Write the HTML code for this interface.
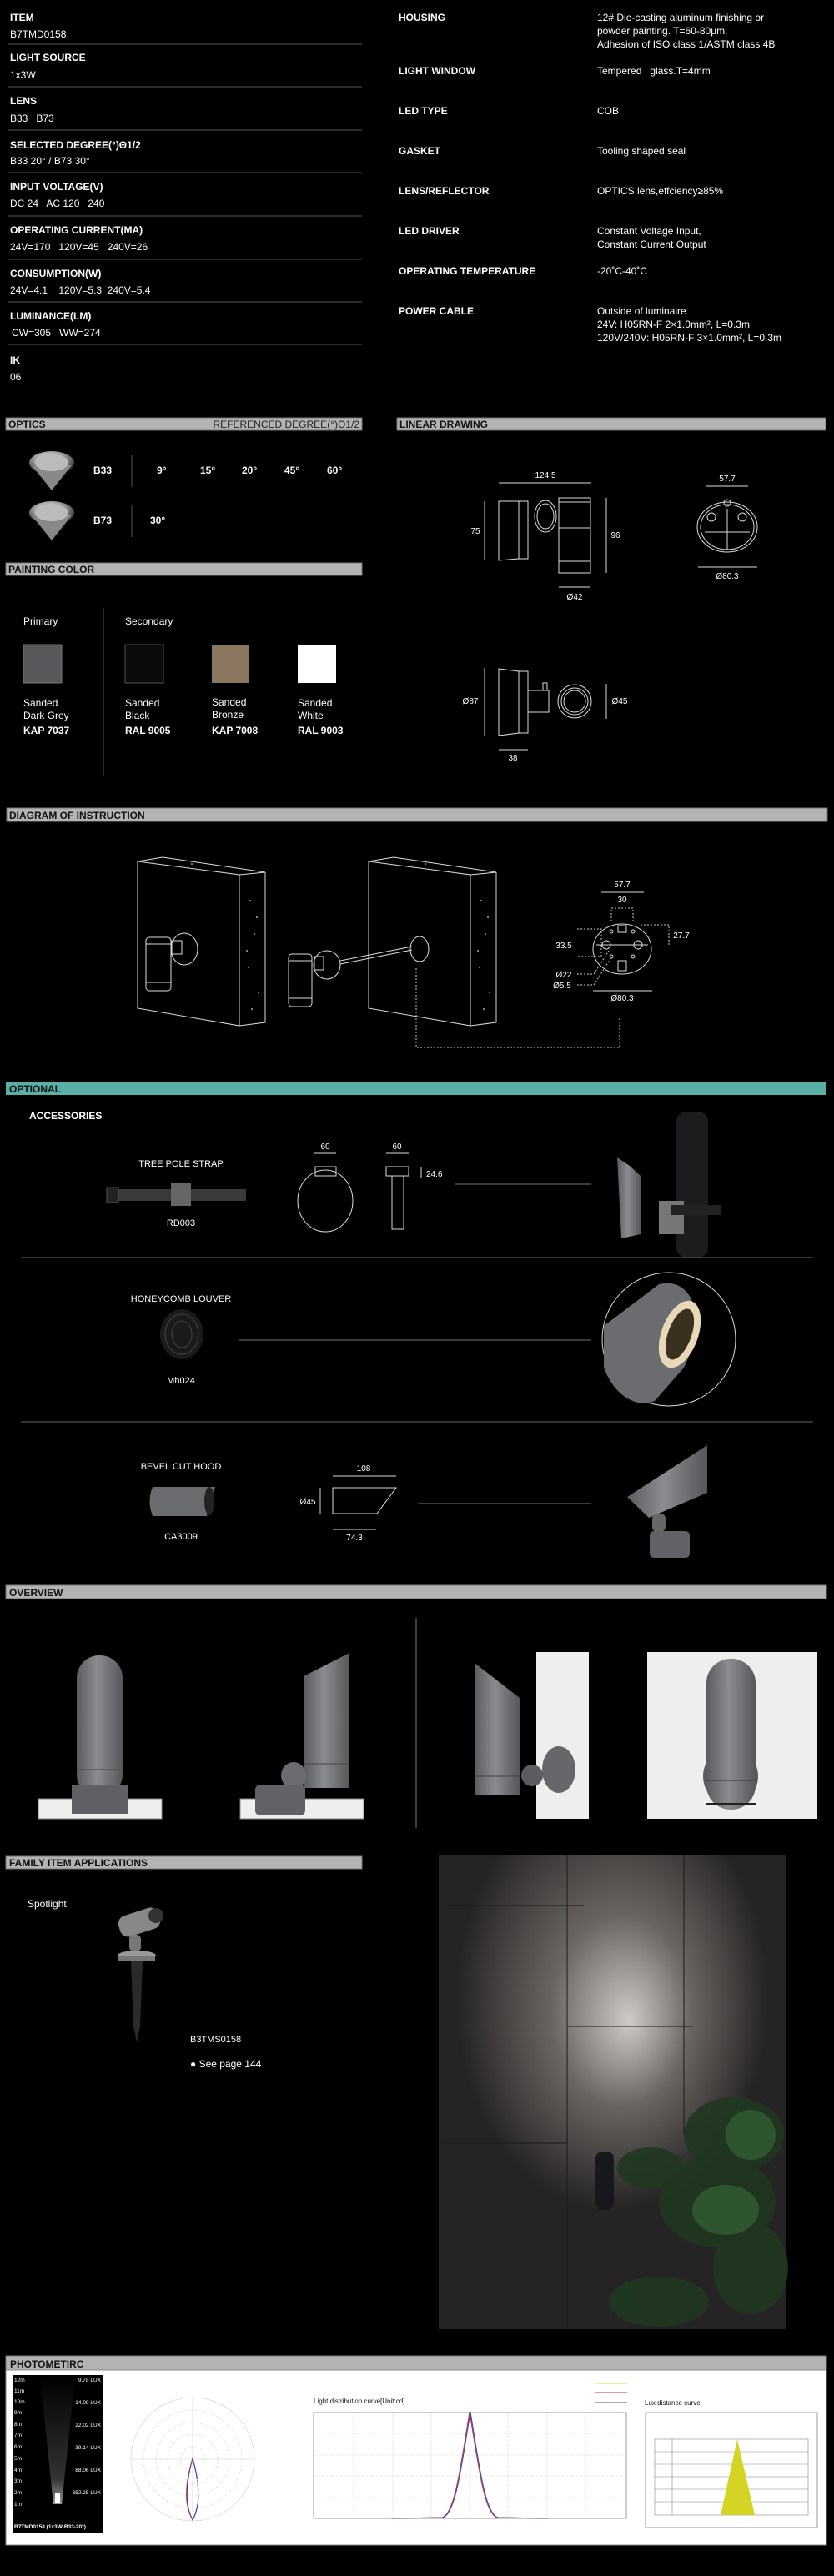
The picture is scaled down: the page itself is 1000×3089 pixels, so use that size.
<!DOCTYPE html>
<html><head><meta charset="utf-8"><style>
html,body{margin:0;padding:0;background:#000;}
svg{display:block;}
text{font-family:"Liberation Sans",sans-serif;fill:#fff;white-space:pre;}
.b{font-weight:bold;}
.h{font-weight:bold;fill:#111;font-size:12px;}
.l{stroke:#555;stroke-width:1;}
.w{stroke:#ddd;fill:none;stroke-width:1;}
.d{font-size:10px;fill:#ddd;}
</style></head><body>
<svg width="1000" height="3089" viewBox="0 0 1000 3089" xmlns="http://www.w3.org/2000/svg" xml:space="preserve">
<defs>
<linearGradient id="tube" x1="0" x2="1"><stop offset="0" stop-color="#5a5c60"/><stop offset=".45" stop-color="#8a8c90"/><stop offset="1" stop-color="#55575a"/></linearGradient>
<radialGradient id="lens" cx=".45" cy=".35" r=".6"><stop offset="0" stop-color="#fff"/><stop offset=".6" stop-color="#999"/><stop offset="1" stop-color="#333"/></radialGradient>
<radialGradient id="wall" cx=".5" cy=".3" r=".45" fx=".55" fy=".35"><stop offset="0" stop-color="#cfcac6"/><stop offset=".45" stop-color="#6a6562"/><stop offset="1" stop-color="#252323"/></radialGradient>
<linearGradient id="lux" x1="0" y1="1" x2="0" y2="0"><stop offset="0" stop-color="#fff"/><stop offset=".2" stop-color="#555"/><stop offset="1" stop-color="#000"/></linearGradient>
</defs>
<rect width="1000" height="3089" fill="#000"/>

<!-- SPEC LEFT -->
<g font-size="12">
<text x="12" y="25" class="b">ITEM</text><text x="12" y="45">B7TMD0158</text>
<text x="12" y="73" class="b">LIGHT SOURCE</text><text x="12" y="94">1x3W</text>
<text x="12" y="125" class="b">LENS</text><text x="12" y="146">B33   B73</text>
<text x="12" y="178" class="b">SELECTED DEGREE(°)Θ1/2</text><text x="12" y="197">B33 20° / B73 30°</text>
<text x="12" y="228" class="b">INPUT VOLTAGE(V)</text><text x="12" y="248">DC 24   AC 120   240</text>
<text x="12" y="280" class="b">OPERATING CURRENT(MA)</text><text x="12" y="300">24V=170   120V=45   240V=26</text>
<text x="12" y="332" class="b">CONSUMPTION(W)</text><text x="12" y="352">24V=4.1    120V=5.3  240V=5.4</text>
<text x="12" y="383" class="b">LUMINANCE(LM)</text><text x="14" y="403">CW=305   WW=274</text>
<text x="12" y="436" class="b">IK</text><text x="12" y="456">06</text>
</g>
<g class="l"><line x1="10" y1="53" x2="434" y2="53"/><line x1="10" y1="104" x2="434" y2="104"/><line x1="10" y1="156" x2="434" y2="156"/><line x1="10" y1="207" x2="434" y2="207"/><line x1="10" y1="259" x2="434" y2="259"/><line x1="10" y1="311" x2="434" y2="311"/><line x1="10" y1="362" x2="434" y2="362"/><line x1="10" y1="413" x2="434" y2="413"/></g>
<!-- SPEC RIGHT -->
<g font-size="12">
<text x="478" y="25" class="b">HOUSING</text><text x="716" y="25">12# Die-casting aluminum finishing or</text><text x="716" y="41">powder painting. T=60-80μm.</text><text x="716" y="57">Adhesion of ISO class 1/ASTM class 4B</text>
<text x="478" y="89" class="b">LIGHT WINDOW</text><text x="716" y="89">Tempered   glass.T=4mm</text>
<text x="478" y="137" class="b">LED TYPE</text><text x="716" y="137">COB</text>
<text x="478" y="185" class="b">GASKET</text><text x="716" y="185">Tooling shaped seal</text>
<text x="478" y="233" class="b">LENS/REFLECTOR</text><text x="716" y="233">OPTICS lens,effciency≥85%</text>
<text x="478" y="281" class="b">LED DRIVER</text><text x="716" y="281">Constant Voltage Input,</text><text x="716" y="297">Constant Current Output</text>
<text x="478" y="329" class="b">OPERATING TEMPERATURE</text><text x="716" y="329">-20˚C-40˚C</text>
<text x="478" y="377" class="b">POWER CABLE</text><text x="716" y="377">Outside of luminaire</text><text x="716" y="393">24V: H05RN-F 2×1.0mm², L=0.3m</text><text x="716" y="409">120V/240V: H05RN-F 3×1.0mm², L=0.3m</text>
</g>

<!-- HEADER BARS -->
<g fill="#b3b3b3" stroke="#777">
<rect x="7" y="501" width="427" height="15"/><rect x="476" y="501" width="514" height="15"/>
<rect x="7" y="675" width="427" height="15"/>
<rect x="8" y="969" width="984" height="16"/>
<rect x="7" y="1901" width="984" height="16"/>
<rect x="7" y="2226" width="427" height="15"/>
<rect x="7" y="2825" width="984" height="17"/>
</g>
<rect x="7" y="1297" width="984" height="16" fill="#5ab0a5"/>
<text x="10" y="513" class="h">OPTICS</text><text x="431" y="513" font-size="12" style="fill:#222" text-anchor="end">REFERENCED DEGREE(°)Θ1/2</text>
<text x="479" y="513" class="h">LINEAR DRAWING</text>
<text x="10" y="687" class="h">PAINTING COLOR</text>
<text x="11" y="982" class="h">DIAGRAM OF INSTRUCTION</text>
<text x="11" y="1310" class="h">OPTIONAL</text>
<text x="11" y="1914" class="h">OVERVIEW</text>
<text x="11" y="2238" class="h">FAMILY ITEM APPLICATIONS</text>
<text x="12" y="2839" class="h" font-size="13">PHOTOMETIRC</text>

<!-- OPTICS -->
<g>
<ellipse cx="62" cy="555" rx="27" ry="14" fill="url(#lens)"/><path d="M38 558 L62 588 L86 558Z" fill="#888"/><ellipse cx="62" cy="555" rx="20" ry="10" fill="#bbb"/>
<ellipse cx="62" cy="615" rx="27" ry="14" fill="url(#lens)"/><path d="M38 618 L62 648 L86 618Z" fill="#888"/><ellipse cx="62" cy="615" rx="20" ry="10" fill="#bbb"/>
<line x1="158" y1="546" x2="158" y2="584" class="l"/><line x1="158" y1="606" x2="158" y2="644" class="l"/>
<g font-size="12" class="b"><text x="112" y="568">B33</text><text x="188" y="568">9°</text><text x="240" y="568">15°</text><text x="290" y="568">20°</text><text x="341" y="568">45°</text><text x="392" y="568">60°</text>
<text x="112" y="628">B73</text><text x="180" y="628">30°</text></g>
</g>

<!-- PAINTING COLOR -->
<line x1="124" y1="729" x2="124" y2="930" class="l"/>
<g font-size="12"><text x="28" y="749">Primary</text><text x="150" y="749">Secondary</text></g>
<rect x="28" y="773" width="46" height="46" fill="#58585a" stroke="#777"/>
<rect x="150" y="773" width="46" height="46" fill="#0a0a0a" stroke="#555"/>
<rect x="254" y="773" width="45" height="46" fill="#8b7660"/>
<rect x="357" y="773" width="46" height="46" fill="#fff"/>
<g font-size="12"><text x="28" y="847">Sanded</text><text x="28" y="862">Dark Grey</text><text x="28" y="880" class="b">KAP 7037</text>
<text x="150" y="847">Sanded</text><text x="150" y="862">Black</text><text x="150" y="880" class="b">RAL 9005</text>
<text x="254" y="846">Sanded</text><text x="254" y="861">Bronze</text><text x="254" y="880" class="b">KAP 7008</text>
<text x="357" y="847">Sanded</text><text x="357" y="862">White</text><text x="357" y="880" class="b">RAL 9003</text></g>

<!-- LINEAR DRAWING -->
<g class="w">
<line x1="598" y1="579" x2="709" y2="579"/>
<path d="M598 601 L622 601 L622 670 L598 672Z"/><rect x="622" y="601" width="11" height="69"/>
<ellipse cx="654" cy="619" rx="13" ry="19"/><ellipse cx="654" cy="619" rx="10" ry="15"/>
<rect x="670" y="597" width="38" height="90"/><line x1="670" y1="602" x2="708" y2="602"/><line x1="670" y1="633" x2="708" y2="633"/><line x1="670" y1="673" x2="708" y2="673"/>
<line x1="581" y1="601" x2="581" y2="672"/><line x1="727" y1="597" x2="727" y2="687"/><line x1="670" y1="704" x2="708" y2="704"/>
<line x1="847" y1="583" x2="897" y2="583"/><line x1="837" y1="680" x2="908" y2="680"/>
<ellipse cx="872" cy="632" rx="36" ry="30"/><ellipse cx="872" cy="632" rx="32" ry="27"/>
<circle cx="853" cy="620" r="5"/><circle cx="890" cy="620" r="5"/><circle cx="872" cy="603" r="4"/><line x1="872" y1="610" x2="872" y2="660"/><line x1="845" y1="638" x2="899" y2="638"/>
<path d="M598 802 L622 805 L622 879 L598 882Z"/><rect x="622" y="805" width="11" height="74"/>
<rect x="633" y="828" width="25" height="26"/><rect x="651" y="819" width="5" height="9"/>
<circle cx="689" cy="841" r="20"/><circle cx="689" cy="841" r="16"/><circle cx="689" cy="841" r="13"/>
<line x1="581" y1="801" x2="581" y2="882"/><line x1="727" y1="820" x2="727" y2="862"/><line x1="598" y1="899" x2="633" y2="899"/>
</g>
<g class="d" font-size="11"><text x="654" y="573" text-anchor="middle">124.5</text><text x="570" y="640" text-anchor="middle">75</text><text x="738" y="645" text-anchor="middle">96</text><text x="689" y="719" text-anchor="middle">Ø42</text>
<text x="872" y="577" text-anchor="middle">57.7</text><text x="872" y="694" text-anchor="middle">Ø80.3</text>
<text x="564" y="844" text-anchor="middle">Ø87</text><text x="743" y="844" text-anchor="middle">Ø45</text><text x="615" y="912" text-anchor="middle">38</text></g>

<!-- DIAGRAM OF INSTRUCTION -->
<g class="w" stroke="#ccc">
<path d="M165 1033 L287 1049 L287 1230 L165 1209Z"/><path d="M165 1033 L195 1028 L318 1046 L287 1049"/><path d="M318 1046 L318 1226 L287 1230"/>
<path d="M442 1033 L564 1049 L564 1230 L442 1209Z"/><path d="M442 1033 L472 1028 L595 1046 L564 1049"/><path d="M595 1046 L595 1226 L564 1230"/>
<rect x="175" y="1124" width="30" height="64" rx="4"/><line x1="175" y1="1132" x2="205" y2="1132"/><line x1="175" y1="1178" x2="205" y2="1178"/>
<ellipse cx="221" cy="1138" rx="16" ry="19"/><rect x="206" y="1128" width="12" height="16"/>
<rect x="346" y="1144" width="28" height="63" rx="4"/><line x1="346" y1="1152" x2="374" y2="1152"/><line x1="346" y1="1197" x2="374" y2="1197"/>
<ellipse cx="392" cy="1157" rx="16" ry="17"/><rect x="377" y="1147" width="11" height="16"/>
<line x1="408" y1="1152" x2="494" y2="1135"/><line x1="408" y1="1156" x2="494" y2="1139"/>
<ellipse cx="503" cy="1138" rx="11" ry="15"/>
<ellipse cx="746" cy="1138" rx="35" ry="30"/>
<circle cx="727" cy="1133" r="5"/><circle cx="765" cy="1133" r="5"/><circle cx="733" cy="1117" r="2"/><circle cx="759" cy="1117" r="2"/><circle cx="733" cy="1147" r="2"/><circle cx="759" cy="1147" r="2"/>
<rect x="741" y="1110" width="10" height="8"/><rect x="741" y="1152" width="10" height="12"/><line x1="715" y1="1133" x2="777" y2="1133"/>
<line x1="721" y1="1070" x2="772" y2="1070"/><line x1="711" y1="1188" x2="782" y2="1188"/>
</g>
<g fill="#aaa"><circle cx="300" cy="1080" r="1"/><circle cx="305" cy="1120" r="1"/><circle cx="298" cy="1160" r="1"/><circle cx="310" cy="1190" r="1"/><circle cx="302" cy="1210" r="1"/><circle cx="308" cy="1100" r="1"/><circle cx="296" cy="1140" r="1"/><circle cx="577" cy="1080" r="1"/><circle cx="582" cy="1120" r="1"/><circle cx="575" cy="1160" r="1"/><circle cx="587" cy="1190" r="1"/><circle cx="580" cy="1210" r="1"/><circle cx="585" cy="1100" r="1"/><circle cx="573" cy="1140" r="1"/><circle cx="230" cy="1036" r="1"/><circle cx="510" cy="1036" r="1"/></g>
<g stroke="#ccc" stroke-dasharray="2,2" fill="none"><path d="M499 1161 L499 1256 L743 1256 L743 1221"/><path d="M733 1105 L733 1089 L759 1089 L759 1105"/><path d="M692 1114 L721 1114 L721 1147 L692 1147"/><path d="M768 1109 L802 1109 L802 1133"/><path d="M692 1168 L712 1168 L730 1140"/><path d="M692 1181 L712 1181 L733 1148"/></g>
<g class="d" font-size="11"><text x="746" y="1064" text-anchor="middle">57.7</text><text x="746" y="1082" text-anchor="middle">30</text><text x="817" y="1125" text-anchor="middle">27.7</text><text x="676" y="1137" text-anchor="middle">33.5</text><text x="676" y="1172" text-anchor="middle">Ø22</text><text x="674" y="1185" text-anchor="middle">Ø5.5</text><text x="746" y="1200" text-anchor="middle">Ø80.3</text></g>

<!-- OPTIONAL / ACCESSORIES -->
<text x="35" y="1342" font-size="12" class="b">ACCESSORIES</text>
<g font-size="11" style="fill:#ddd"><text x="217" y="1399" text-anchor="middle">TREE POLE STRAP</text><text x="217" y="1470" text-anchor="middle">RD003</text>
<text x="217" y="1561" text-anchor="middle">HONEYCOMB LOUVER</text><text x="217" y="1659" text-anchor="middle">Mh024</text>
<text x="217" y="1762" text-anchor="middle">BEVEL CUT HOOD</text><text x="217" y="1846" text-anchor="middle">CA3009</text></g>
<rect x="130" y="1426" width="165" height="14" fill="#3a3a3a"/><rect x="205" y="1418" width="24" height="28" fill="#666"/><rect x="128" y="1424" width="14" height="18" fill="#222" stroke="#555"/>
<g class="w"><line x1="376" y1="1383" x2="403" y2="1383"/><ellipse cx="390" cy="1440" rx="33" ry="37"/><rect x="378" y="1399" width="25" height="11"/>
<line x1="463" y1="1383" x2="490" y2="1383"/><rect x="463" y="1399" width="27" height="11"/><rect x="470" y="1410" width="14" height="64"/><line x1="505" y1="1399" x2="505" y2="1413"/></g>
<g class="d" font-size="11"><text x="390" y="1378" text-anchor="middle">60</text><text x="476" y="1378" text-anchor="middle">60</text><text x="511" y="1411">24.6</text></g>
<line x1="546" y1="1420" x2="709" y2="1420" stroke="#777"/>
<rect x="811" y="1333" width="38" height="175" rx="12" fill="#1c1c1e"/>
<path d="M740 1388 L755 1398 L768 1410 L768 1480 L745 1485 Z" fill="url(#tube)"/><rect x="790" y="1440" width="30" height="40" fill="#777"/><rect x="805" y="1445" width="60" height="12" fill="#222"/>
<line x1="25" y1="1508" x2="975" y2="1508" stroke="#666"/>
<ellipse cx="218" cy="1600" rx="26" ry="30" fill="#1a1a1a"/><g fill="none" stroke="#444"><ellipse cx="218" cy="1600" rx="20" ry="24"/><ellipse cx="218" cy="1600" rx="12" ry="16"/></g>
<line x1="287" y1="1607" x2="709" y2="1607" stroke="#777"/>
<circle cx="802" cy="1606" r="80" fill="none" stroke="#ddd"/>
<path d="M724 1590 L790 1540 C830 1530 850 1580 820 1640 L785 1680 C760 1690 735 1670 724 1640Z" fill="#6a6c70"/><ellipse cx="815" cy="1600" rx="22" ry="42" fill="#e8d8b8" transform="rotate(20 815 1600)"/><ellipse cx="815" cy="1600" rx="14" ry="32" fill="#3a3020" transform="rotate(20 815 1600)"/>
<line x1="25" y1="1705" x2="975" y2="1705" stroke="#666"/>
<path d="M183 1783 L258 1783 L248 1818 L183 1818 Q176 1800 183 1783Z" fill="#6a6c70"/><ellipse cx="251" cy="1800" rx="6" ry="17" fill="#222"/>
<g class="w"><line x1="399" y1="1770" x2="475" y2="1770"/><path d="M399 1784 L475 1784 L452 1815 L399 1815Z"/><line x1="384" y1="1784" x2="384" y2="1815"/><line x1="399" y1="1834" x2="451" y2="1834"/></g>
<g class="d" font-size="11"><text x="436" y="1764" text-anchor="middle">108</text><text x="369" y="1804" text-anchor="middle">Ø45</text><text x="425" y="1847" text-anchor="middle">74.3</text></g>
<line x1="501" y1="1803" x2="709" y2="1803" stroke="#777"/>
<path d="M848 1733 L848 1790 L778 1820 L752 1795 Z" fill="url(#tube)"/><rect x="782" y="1815" width="16" height="22" rx="6" fill="#666"/><rect x="779" y="1836" width="48" height="32" rx="5" fill="#606266"/>

<!-- OVERVIEW -->
<line x1="499" y1="1940" x2="499" y2="2192" stroke="#777"/>
<rect x="46" y="2157" width="148" height="24" fill="#eee" stroke="#888"/>
<rect x="92" y="1985" width="55" height="170" rx="27" fill="url(#tube)"/><path d="M86 2141 L153 2141 L153 2175 L86 2175Z" fill="#5e6064"/><line x1="92" y1="2122" x2="147" y2="2122" stroke="#444"/>
<rect x="288" y="2157" width="148" height="24" fill="#eee" stroke="#888"/>
<path d="M364 2010 L419 1982 L419 2144 L364 2144Z" fill="url(#tube)"/><line x1="364" y1="2115" x2="419" y2="2115" stroke="#444"/>
<ellipse cx="352" cy="2129" rx="15" ry="16" fill="#6a6c70"/><rect x="306" y="2140" width="60" height="37" rx="6" fill="#606266"/>
<rect x="643" y="1981" width="63" height="200" fill="#eee"/>
<path d="M569 1994 L623 2036 L623 2153 L569 2153Z" fill="url(#tube)"/><line x1="569" y1="2130" x2="623" y2="2130" stroke="#444"/><ellipse cx="670" cy="2122" rx="20" ry="28" fill="#65676b"/><ellipse cx="638" cy="2129" rx="13" ry="13" fill="#5a5c60"/>
<rect x="776" y="1981" width="204" height="200" fill="#eee"/>
<ellipse cx="876" cy="2130" rx="33" ry="35" fill="#5a5c60"/><rect x="847" y="1989" width="59" height="181" rx="29" fill="url(#tube)"/><line x1="847" y1="2135" x2="906" y2="2135" stroke="#333"/><line x1="847" y1="2163" x2="906" y2="2163" stroke="#222" stroke-width="2"/>

<!-- FAMILY -->
<text x="33" y="2287" font-size="12">Spotlight</text>
<rect x="142" y="2292" width="50" height="26" rx="10" fill="#888" transform="rotate(-18 167 2305)"/><circle cx="187" cy="2297" r="9" fill="#333"/>
<rect x="155" y="2320" width="14" height="20" rx="5" fill="#777"/><ellipse cx="164" cy="2345" rx="23" ry="6" fill="#999"/><rect x="142" y="2345" width="44" height="6" fill="#777"/>
<path d="M157 2352 L171 2352 L168 2430 L164 2449 L160 2430Z" fill="#2a2a2c"/>
<text x="228" y="2449" font-size="11">B3TMS0158</text><text x="228" y="2479" font-size="12">● See page 144</text>
<rect x="526" y="2225" width="416" height="568" fill="url(#wall)"/>
<g stroke="#1a1a1a" fill="none"><line x1="530" y1="2285" x2="700" y2="2285"/><line x1="680" y1="2430" x2="830" y2="2430"/><line x1="530" y1="2570" x2="680" y2="2570"/><line x1="680" y1="2225" x2="680" y2="2793"/><line x1="820" y1="2225" x2="820" y2="2560"/></g>
<rect x="714" y="2580" width="22" height="70" rx="8" fill="#16181c"/>
<g fill="#1f3820" opacity=".9"><ellipse cx="880" cy="2560" rx="60" ry="45"/><ellipse cx="860" cy="2640" rx="70" ry="55"/><ellipse cx="900" cy="2720" rx="45" ry="55"/><ellipse cx="790" cy="2760" rx="60" ry="30"/><ellipse cx="780" cy="2600" rx="40" ry="25"/></g>
<g fill="#2f5530"><ellipse cx="870" cy="2650" rx="40" ry="30"/><ellipse cx="900" cy="2560" rx="30" ry="30"/></g>

<!-- PHOTOMETRIC -->
<rect x="7" y="2842" width="984" height="210" fill="#fff" stroke="#888"/>
<rect x="15" y="2848" width="109" height="190" fill="#000"/>
<path d="M64 3003 L74 3003 L90 2850 L48 2850Z" fill="url(#lux)" opacity=".6"/><rect x="66" y="2990" width="6" height="12" fill="#fff"/>
<g font-size="6.5" fill="#fff"><text x="17" y="2856">12m</text><text x="17" y="2869">11m</text><text x="17" y="2882">10m</text><text x="17" y="2895">9m</text><text x="17" y="2909">8m</text><text x="17" y="2922">7m</text><text x="17" y="2936">6m</text><text x="17" y="2950">5m</text><text x="17" y="2964">4m</text><text x="17" y="2977">3m</text><text x="17" y="2991">2m</text><text x="17" y="3005">1m</text>
<text x="121" y="2856" text-anchor="end">9.78 LUX</text><text x="121" y="2883" text-anchor="end">14.09 LUX</text><text x="121" y="2910" text-anchor="end">22.02 LUX</text><text x="121" y="2937" text-anchor="end">39.14 LUX</text><text x="121" y="2964" text-anchor="end">88.06 LUX</text><text x="121" y="2991" text-anchor="end">352.25 LUX</text>
<text x="17" y="3032" font-weight="bold">B7TMD0158 (1x3W-B33-20°)</text></g>
<g stroke="#ccc" fill="none" stroke-width=".6"><circle cx="231" cy="2949" r="74"/><circle cx="231" cy="2949" r="59" stroke-dasharray="2,2"/><circle cx="231" cy="2949" r="44" stroke-dasharray="2,2"/><circle cx="231" cy="2949" r="30" stroke-dasharray="2,2"/><circle cx="231" cy="2949" r="15" stroke-dasharray="2,2"/>
<line x1="157" y1="2949" x2="305" y2="2949"/><line x1="231" y1="2875" x2="231" y2="3023"/></g>
<path d="M231 2948 C222 2980 222 3005 231 3022 C240 3005 240 2980 231 2948Z" fill="none" stroke="#3040b0" stroke-width="1.2"/><path d="M231 2948 C221 2980 221 3005 231 3022" fill="none" stroke="#d03030" stroke-width=".8"/>
<g font-size="8" style="fill:#b03030"><text x="231" y="2872" text-anchor="middle">±180°</text><text x="145" y="2952" text-anchor="middle">-90°</text><text x="315" y="2952" text-anchor="middle">90°</text><text x="231" y="3033" text-anchor="middle">0°</text></g>
<g font-size="8" style="fill:#111"><text x="235" y="2964">281.80</text><text x="235" y="2979">563.59</text><text x="235" y="2993">845.39</text><text x="235" y="3008">1127.19</text><text x="235" y="3022">1408.98</text></g>
<text x="376" y="2882" font-size="8" style="fill:#111">Light distribution curve[Unit:cd]</text>
<rect x="376" y="2893" width="375" height="127" fill="none" stroke="#999"/>
<g stroke="#ccc" stroke-dasharray="2,1" stroke-width=".6"><line x1="376" y1="2918" x2="751" y2="2918"/><line x1="376" y1="2944" x2="751" y2="2944"/><line x1="376" y1="2969" x2="751" y2="2969"/><line x1="376" y1="2995" x2="751" y2="2995"/>
<line x1="424" y1="2893" x2="424" y2="3020"/><line x1="471" y1="2893" x2="471" y2="3020"/><line x1="517" y1="2893" x2="517" y2="3020"/><line x1="563" y1="2893" x2="563" y2="3020"/><line x1="609" y1="2893" x2="609" y2="3020"/><line x1="656" y1="2893" x2="656" y2="3020"/><line x1="702" y1="2893" x2="702" y2="3020"/></g>
<path d="M469 3020 L530 3019 C545 3015 552 2960 563 2892 C574 2960 581 3015 596 3019 L657 3020" fill="none" stroke="#d03030" stroke-width="1"/>
<path d="M470 3020 L531 3019 C546 3015 553 2960 564 2892 C575 2960 582 3015 597 3019 L657 3020" fill="none" stroke="#3040b0" stroke-width="1"/>
<g font-size="8" style="fill:#111" text-anchor="end"><text x="371" y="2897">1408.98</text><text x="371" y="2922">1127.19</text><text x="371" y="2947">845.39</text><text x="371" y="2972">563.59</text><text x="371" y="2998">281.80</text><text x="371" y="3023">0.00</text></g>
<g font-size="8" style="fill:#b03030" text-anchor="middle"><text x="382" y="3031">-180°</text><text x="431" y="3031">-135°</text><text x="476" y="3031">-90°</text><text x="520" y="3031">-45°</text><text x="564" y="3031">0°</text><text x="609" y="3031">45°</text><text x="653" y="3031">90°</text><text x="700" y="3031">135°</text><text x="744" y="3031">180°</text></g>
<g font-size="8" style="fill:#111" text-anchor="end"><text x="711" y="2860">C90(MAX):</text><text x="711" y="2871">C0/C180:</text><text x="711" y="2884">C90/C270:</text></g>
<line x1="713" y1="2858" x2="752" y2="2858" stroke="#dddd30"/><line x1="713" y1="2869" x2="752" y2="2869" stroke="#d03030"/><line x1="713" y1="2881" x2="752" y2="2881" stroke="#9080c0" stroke-width="1.5"/>
<text x="773" y="2884" font-size="8" style="fill:#111">Lux distance curve</text>
<rect x="774" y="2893" width="206" height="138" fill="none" stroke="#999"/>
<g font-size="7" style="fill:#111"><text x="874" y="2904" text-anchor="middle">Illuminance at a distance</text><text x="830" y="2913" text-anchor="middle">Center beam LUX</text><text x="934" y="2913" text-anchor="middle">Beam width</text><text x="920" y="2922" text-anchor="middle">V</text><text x="952" y="2922" text-anchor="middle">H</text>
<text x="795" y="2933" text-anchor="middle">2m</text><text x="838" y="2933" text-anchor="middle">352.25 LUX</text><text x="921" y="2933" text-anchor="middle">0.8m</text><text x="952" y="2933" text-anchor="middle">0.8m</text>
<text x="795" y="2949" text-anchor="middle">4m</text><text x="839" y="2949" text-anchor="middle">88.06 LUX</text><text x="921" y="2949" text-anchor="middle">1.7m</text><text x="952" y="2949" text-anchor="middle">1.6m</text>
<text x="795" y="2964" text-anchor="middle">6m</text><text x="839" y="2964" text-anchor="middle">39.14 LUX</text><text x="921" y="2964" text-anchor="middle">2.5m</text><text x="952" y="2964" text-anchor="middle">2.4m</text>
<text x="795" y="2979" text-anchor="middle">8m</text><text x="839" y="2979" text-anchor="middle">22.02 LUX</text><text x="921" y="2979" text-anchor="middle">3.3m</text><text x="952" y="2979" text-anchor="middle">3.2m</text>
<text x="795" y="2994" text-anchor="middle">10m</text><text x="839" y="2994" text-anchor="middle">14.09 LUX</text><text x="921" y="2994" text-anchor="middle">4.1m</text><text x="952" y="2994" text-anchor="middle">4.1m</text>
<text x="795" y="3010" text-anchor="middle">12m</text><text x="840" y="3010" text-anchor="middle">9.78 LUX</text><text x="921" y="3010" text-anchor="middle">5.0m</text><text x="952" y="3010" text-anchor="middle">4.9m</text>
<text x="785" y="3025">Ver.Spread:23.4</text><text x="968" y="3025" text-anchor="end">Horiz.Spread:22.9</text></g>
<g stroke="#888" stroke-width=".6" fill="none"><rect x="785" y="2925" width="184" height="91"/><line x1="806" y1="2925" x2="806" y2="3016"/><line x1="785" y1="2940" x2="969" y2="2940"/><line x1="785" y1="2955" x2="969" y2="2955"/><line x1="785" y1="2970" x2="969" y2="2970"/><line x1="785" y1="2985" x2="969" y2="2985"/><line x1="785" y1="3000" x2="969" y2="3000"/></g>
<path d="M884 2925 L864 3016 L905 3016Z" fill="#d4d424"/>
</svg>
</body></html>
